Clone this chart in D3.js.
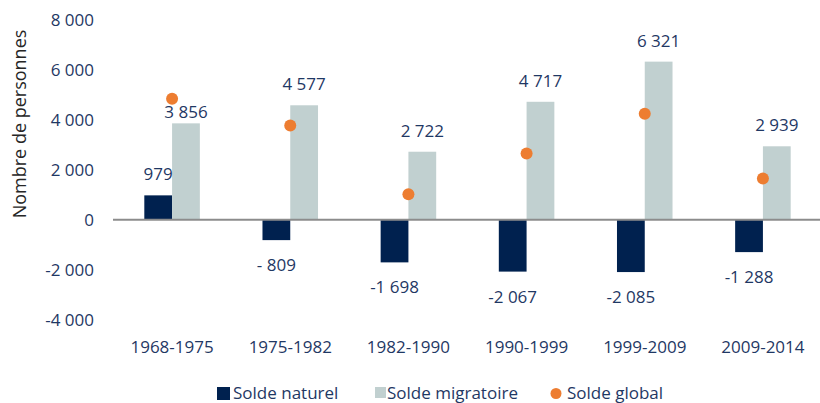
<!DOCTYPE html>
<html>
<head>
<meta charset="utf-8">
<script src="https://cdn.jsdelivr.net/npm/d3@7"></script>
<style>
  body { margin: 0; background: #fff; }
  svg { font-family: "Open Sans", "Noto Sans", sans-serif; }
</style>
</head>
<body>
<script>
// données
let periodes = ['1968-1975', '1975-1982', '1982-1990', '1990-1999', '1999-2009', '2009-2014'];
let soldeNaturel = [979, -809, -1698, -2067, -2085, -1288];
let soldeMigratoire = [3856, 4577, 2722, 4717, 6321, 2939];
let soldeGlobal = [4835, 3768, 1024, 2650, 4236, 1651];
let yTicks = [-4000, -2000, 0, 2000, 4000, 6000, 8000];
let series = ['Solde naturel', 'Solde migratoire', 'Solde global'];

let width = 820, height = 403;
let navy = '#00214F', light = '#C1D0D0', orange = '#ED7D31', textCol = '#1F3864';

let svg = d3.select('body').append('svg')
    .attr('width', width)
    .attr('height', height);

let x = d3.scaleBand()
    .domain(periodes)
    .range([113, 822])
    .paddingInner(0.53)
    .paddingOuter(0.265);

let y = d3.scaleLinear()
    .domain([-4000, 8000])
    .range([320, 19.6]);

// format "8 000", "- 809"
function fmt(v) {
    let a = Math.abs(v);
    let s = d3.format(',')(a).replace(/,/g, ' ');
    if (v < 0) return a < 1000 ? '- ' + s : '-' + s;
    return s;
}

// axe y (labels seulement)
let yAxis = d3.axisLeft(y)
    .tickValues(yTicks)
    .tickSize(0)
    .tickPadding(0)
    .tickFormat(fmt);

svg.append('g')
    .attr('transform', 'translate(94,0)')
    .call(yAxis)
    .call(g => g.select('.domain').remove())
    .selectAll('text')
    .attr('fill', textCol)
    .style('font-size', '17px')
    .style('font-family', '"Open Sans", sans-serif');

// titre axe y
svg.append('text')
    .attr('transform', 'translate(26,' + 124 + ') rotate(-90)')
    .attr('text-anchor', 'middle')
    .attr('fill', '#262626')
    .style('font-size', '18px')
    .text('Nombre de personnes');

let bw = x.bandwidth() / 2;

// barres solde naturel
svg.selectAll('.nat')
    .data(soldeNaturel)
    .enter()
    .append('rect')
    .attr('class', 'nat')
    .attr('x', (d, i) => x(periodes[i]))
    .attr('y', d => y(Math.max(0, d)))
    .attr('width', bw)
    .attr('height', d => Math.abs(y(d) - y(0)))
    .attr('fill', navy);

// barres solde migratoire
svg.selectAll('.mig')
    .data(soldeMigratoire)
    .enter()
    .append('rect')
    .attr('class', 'mig')
    .attr('x', (d, i) => x(periodes[i]) + bw)
    .attr('y', d => y(Math.max(0, d)))
    .attr('width', bw)
    .attr('height', d => Math.abs(y(d) - y(0)))
    .attr('fill', light);

// ligne zéro
svg.append('line')
    .attr('x1', 113).attr('x2', 820)
    .attr('y1', y(0)).attr('y2', y(0))
    .attr('stroke', '#8C8C8C')
    .attr('stroke-width', 2);

// points solde global
let dotR = 6;
svg.selectAll('.glob')
    .data(soldeGlobal)
    .enter()
    .append('circle')
    .attr('class', 'glob')
    .attr('cx', (d, i) => x(periodes[i]) + bw)
    .attr('cy', d => y(d))
    .attr('r', dotR)
    .attr('fill', orange);

// étiquettes
function labelY(v, i, isMig) {
    if (v >= 0) {
        let base = y(v) - 15;
        if (isMig) {
            // éviter le point du solde global
            let dy = y(soldeGlobal[i]);
            if (base > dy - dotR && base - 13 < dy + dotR) base = dy + dotR + 13;
        }
        return base;
    }
    return y(v) + 31;
}

svg.selectAll('.natLab')
    .data(soldeNaturel)
    .enter()
    .append('text')
    .attr('class', 'natLab')
    .attr('x', (d, i) => x(periodes[i]) + bw / 2)
    .attr('y', (d, i) => labelY(d, i, false))
    .attr('text-anchor', 'middle')
    .attr('fill', textCol)
    .style('font-size', '17px')
    .text(fmt);

svg.selectAll('.migLab')
    .data(soldeMigratoire)
    .enter()
    .append('text')
    .attr('class', 'migLab')
    .attr('x', (d, i) => x(periodes[i]) + bw * 1.5)
    .attr('y', (d, i) => labelY(d, i, true))
    .attr('text-anchor', 'middle')
    .attr('fill', textCol)
    .style('font-size', '17px')
    .text(fmt);

// catégories
svg.selectAll('.cat')
    .data(periodes)
    .enter()
    .append('text')
    .attr('class', 'cat')
    .attr('x', d => x(d) + bw)
    .attr('y', 353)
    .attr('text-anchor', 'middle')
    .attr('fill', textCol)
    .style('font-size', '17px')
    .text(d => d);

// légende
let legX = [217, 375, 556];
let leg = svg.selectAll('.leg')
    .data(series)
    .enter()
    .append('g')
    .attr('class', 'leg')
    .attr('transform', (d, i) => 'translate(' + legX[i] + ',393)');

leg.each(function (d, i) {
    let g = d3.select(this);
    if (i < 2) {
        g.append('rect')
            .attr('x', 0).attr('y', -6)
            .attr('width', i == 0 ? 13 : 11).attr('height', i == 0 ? 13 : 11)
            .attr('fill', i == 0 ? navy : light);
    } else {
        g.append('circle')
            .attr('cx', 0).attr('cy', 0.5).attr('r', 5.5)
            .attr('fill', orange);
    }
    g.append('text')
        .attr('x', i == 0 ? 16 : (i == 1 ? 12 : 11))
        .attr('y', 6)
        .attr('fill', textCol)
        .style('font-size', '17px')
        .text(d);
});
</script>
</body>
</html>
